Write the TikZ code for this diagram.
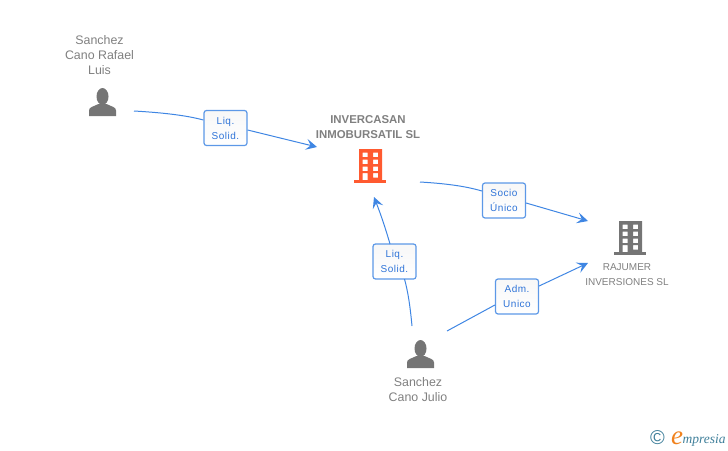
\documentclass[tikz,border=0pt]{standalone}
\usepackage{fontspec}
\usepackage{xcolor}
\usetikzlibrary{arrows.meta}
\setmainfont{Liberation Sans}
\newfontfamily\logofont{Liberation Serif}
\newcommand{\iconcolor}{black!54!white}
\definecolor{linkblue}{HTML}{3F86E3}
\definecolor{roleblue}{HTML}{2F74D8}
\definecolor{namegray}{HTML}{808080}
\definecolor{logoteal}{HTML}{3F7F9A}
\definecolor{logoorange}{HTML}{F0821E}
\definecolor{hotorange}{HTML}{FF5A30}
\newcommand{\personicon}[3]{%
    \begin{scope}[shift={(#1,#2)}]
        \fill[#3] (0,-19.5) ellipse (6 and 8.5);
        \fill[#3] (-13.5,0) -- (-13.5,-5.5) .. controls (-13.5,-9) and (-9,-9.5) .. (-4,-12)
            -- (4,-12) .. controls (9,-9.5) and (13.5,-9) .. (13.5,-5.5) -- (13.5,0) -- cycle;
    \end{scope}}
\newcommand{\towericon}[3]{%
    \begin{scope}[shift={(#1,#2)}]
        \fill[#3] (-16,34) rectangle (16,31);
        \fill[#3,even odd rule] (-11,0) rectangle (12,32)
            (-7.5,3.5) rectangle (-2.5,8) (3,3.5) rectangle (8,8)
            (-7.5,10.5) rectangle (-2.5,15) (3,10.5) rectangle (8,15)
            (-7.5,17.5) rectangle (-2.5,22) (3,17.5) rectangle (8,22)
            (-7.5,24) rectangle (-2.5,31) (3,24) rectangle (8,28.5);
    \end{scope}}
\tikzset{
    namelabel/.style={text=namegray, font=\fontsize{12.4}{15}\selectfont, align=center, inner sep=0pt},
    titlelabel/.style={namelabel, font=\fontsize{11.4}{15}\selectfont\bfseries},
    caplabel/.style={namelabel, font=\fontsize{10}{15}\selectfont},
    rolebox/.style={draw=linkblue!85!white, line width=1.2pt, rounded corners=2.5pt, top color=black!3, bottom color=white,
        minimum width=43pt, minimum height=35pt, inner sep=0pt, align=center, text=roleblue,
        font=\fontsize{10}{15}\selectfont\addfontfeatures{LetterSpace=5}},
    link/.style={draw=linkblue, line width=1pt}
}
\begin{document}
\begin{tikzpicture}[x=1pt, y=-1pt, >={Stealth[length=11pt,width=11pt,inset=4.5pt]}]
        \useasboundingbox (0,0) rectangle (728,450);
        
        % icons
        \personicon{102.5}{116}{\iconcolor}
        \personicon{420.5}{368}{\iconcolor}
        \towericon{370}{149}{hotorange}
        \towericon{630}{221}{\iconcolor}
        
        % names
        \node[namelabel] (rafael) at (99.5,55) {Sanchez\\Cano Rafael\\Luis};
        \node[titlelabel] (invercasan) at (368,127.5) {INVERCASAN\\INMOBURSATIL SL};
        \node[caplabel] (rajumer) at (627,274.5) {RAJUMER\\INVERSIONES SL};
        \node[namelabel] (julio) at (418,389.5) {Sanchez\\Cano Julio};
        
        % boxes
        \node[rolebox] (liqA) at (225.5,128) {Liq.\\Solid.};
        \node[rolebox] (socio) at (504,200.5) {Socio\\Único};
        \node[rolebox] (liqB) at (394.5,261.5) {Liq.\\Solid.};
        \node[rolebox] (adm) at (517,296.5) {Adm.\\Unico};
        
        % free ends
        \coordinate (rafaelOut) at (134,111);
        \coordinate (invercasanLeft) at (317,147);
        \coordinate (invercasanOut) at (420,182);
        \coordinate (invercasanIn) at (374,197);
        \coordinate (rajumerTop) at (588,221);
        \coordinate (rajumerIn) at (588,263);
        \coordinate (julioUp) at (412,326);
        \coordinate (julioOut) at (447,331);
        
        % connectors
        \draw[link] (rafaelOut) .. controls (160,112.5) and (185,115) .. (liqA.west |- 0,120);
        \draw[link,->] (liqA.east |- 0,130) -- (invercasanLeft);
        \draw[link] (invercasanOut) .. controls (445,183.5) and (465,186) .. (socio.west |- 0,191);
        \draw[link,->] (socio.east |- 0,203) -- (rajumerTop);
        \draw[link] (julioUp) .. controls (410,305) and (408,292) .. (404.5,279);
        \draw[link,->] (390,244) .. controls (386,230) and (381,215) .. (invercasanIn);
        \draw[link] (julioOut) -- (adm.west |- 0,305);
        \draw[link,->] (adm.east |- 0,286) -- (rajumerIn);
        
        % logo
        \node[text=logoteal, font=\fontsize{20}{20}\selectfont, inner sep=0pt] (copy) at (657.5,438) {\textcopyright};
        \node[text=logoorange, font=\logofont\fontsize{27}{27}\selectfont\itshape, inner sep=0pt] (logoE) at (677,438) {e};
        \node[text=logoteal, font=\logofont\fontsize{13.5}{13.5}\selectfont\itshape, inner sep=0pt, anchor=base west] (logoText) at (682.5,443) {mpresia};
\end{tikzpicture}
\end{document}
